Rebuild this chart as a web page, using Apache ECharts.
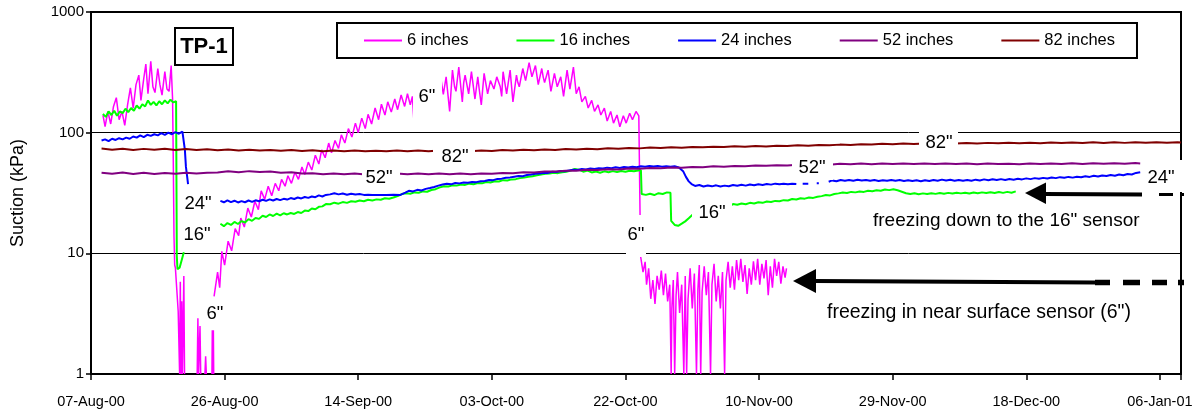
<!DOCTYPE html>
<html><head><meta charset="utf-8">
<script src="https://cdn.jsdelivr.net/npm/echarts@6/dist/echarts.min.js"></script>
<style>html,body{margin:0;padding:0;background:#fff}#c{width:1200px;height:411px}</style>
</head><body><div id="c"></div>
<script>
// x = days since 07-Aug-00, y = suction (kPa)
const xTickLabels = ['07-Aug-00','26-Aug-00','14-Sep-00','03-Oct-00','22-Oct-00','10-Nov-00','29-Nov-00','18-Dec-00','06-Jan-01'];
const seriesNames = ['6 inches','16 inches','24 inches','52 inches','82 inches'];

const inch6 = [
[1.7,140],[2.0,112],[2.4,150],[2.8,118],[3.2,165],[3.6,195],[4.0,128],[4.4,150],[4.8,115],[5.2,170],[5.6,235],[6.0,160],[6.4,250],[6.8,300],[7.1,185],[7.5,280],[7.8,370],[8.1,210],[8.5,390],[8.8,240],[9.1,215],[9.5,340],[9.8,250],[10.1,205],[10.5,320],[10.8,230],[11.1,220],[11.4,360],[11.6,190],[11.7,60],[11.8,14],[11.9,8],[12.0,7.6],[12.2,5],[12.4,3.3],[12.6,1],[12.7,5.8],[12.8,1],[12.9,4.0],[13.0,1],[13.2,6.5],[13.3,1],[13.5,'-'],
[15.1,1],[15.2,2.9],[15.3,1],[15.5,2.5],[15.6,1],[15.9,'-'],[16.2,1],[16.3,1.4],[16.4,1],[16.8,'-'],[17.2,1],[17.25,2.3],[17.3,1],[17.4,2.3],[17.45,1],[17.47,'-'],
[17.5,4.4],[18,7],[18.3,5.2],[18.6,10.4],[19,8],[19.5,12.6],[20,10.5],[20.5,16],[21,14],[21.3,19.6],[21.8,16.5],[22.3,23.7],[22.8,20],[23.3,27],[23.8,23],[24.2,33],[24.7,28],[25.2,36],[25.7,30],[26.2,38],[26.7,33],[27.1,41],[27.6,36],[28.0,44],[28.5,38],[29,47],[29.5,41],[30,52],[30.4,45],[30.9,57],[31.4,49],[31.9,65],[32.4,55],[32.8,72],[33.3,62],[33.8,82],[34.2,68],[34.7,86],[35.2,74],[35.6,96],[36.1,82],[36.6,108],[37.1,92],[37.6,120],[38.0,100],[38.5,132],[39.0,108],[39.4,142],[39.9,118],[40.4,160],[40.9,128],[41.3,172],[41.8,140],[42.2,180],[42.7,148],[43.2,190],[43.6,155],[44.1,205],[44.6,165],[45.0,210],[45.4,170],[45.7,200],[45.9,130],[46.3,190],[46.8,240],[47.3,200],[47.8,260],[48.3,215],[48.8,280],[49.3,230],[49.8,270],
[50.1,208],[50.5,290],[51.0,150],[51.4,330],[51.7,240],[51.9,220],[52.3,350],[52.8,180],[53.0,260],[53.2,300],[53.7,210],[54.1,320],[54.6,190],[55.0,290],[55.2,230],[55.5,170],[55.9,310],[56.4,210],[56.8,270],[57.3,230],[57.7,290],[58.2,240],[58.4,200],[58.6,320],[59.1,210],[59.6,330],[60.0,180],[60.5,300],[60.7,260],[60.9,240],[61.4,340],[61.8,270],[62.3,380],[62.7,290],[63.2,360],[63.6,250],[64.1,340],[64.3,290],[64.5,260],[65.0,330],[65.4,220],[65.9,310],[66.3,240],[66.8,290],[67.2,200],[67.5,270],[67.7,330],[68.1,230],[68.6,350],[69.0,210],[69.4,240],[69.8,180],[70.3,200],[70.7,160],[71.2,185],[71.6,150],[72.1,170],[72.5,140],[73.0,160],[73.4,125],[73.9,150],[74.3,120],[74.8,140],[75.2,112],[75.7,138],[76.1,120],[76.6,145],[77.0,128],[77.5,150],[77.9,138],[78.1,140],[78.15,9.5],
[78.5,7],[78.8,8.5],[79.0,5.5],[79.3,7.5],[79.6,4.2],[79.9,6],[80.2,3.8],[80.5,6.5],[80.8,5],[81.1,7.2],[81.4,4.5],[81.7,6.8],[82.0,4],[82.3,5.5],[82.5,1],[82.6,3.5],[82.8,6],[83.0,1],[83.2,4.5],[83.4,7],[83.7,3.2],[84.0,5.5],[84.3,1],[84.5,6.5],[84.7,1],[84.9,4.2],[85.2,7.5],[85.5,3.5],[85.8,6.8],[86.1,1],[86.3,5],[86.5,8],[86.7,1],[86.9,4.8],[87.2,7.8],[87.5,4.5],[87.8,7],[88.1,1],[88.3,5.5],[88.6,8.2],[88.9,4],[89.2,6.5],[89.5,3.5],[89.8,7],[90.1,1],[90.3,6],[90.6,8.5],[90.9,5.2],[91.2,7.8],[91.5,5],[91.8,8.8],[92.1,6],[92.4,9],[92.7,5.8],[93.0,8],[93.3,4.6],[93.6,7.5],[93.9,5.5],[94.2,8.6],[94.5,6],[94.8,9],[95.1,5.5],[95.4,8.2],[95.7,6.2],[96.0,8.8],[96.3,4.5],[96.6,7.8],[96.9,5.2],[97.2,9],[97.5,6.5],[97.8,8.5],[98.1,5.6],[98.4,7.8],[98.7,6.3],[98.9,7.5]
];

const inch16 = [
[1.7,143],[2.1,135],[2.5,150],[2.9,140],[3.3,152],[3.7,138],[4.1,150],[4.5,145],[4.9,158],[5.3,148],[5.7,160],[6.1,152],[6.5,168],[6.9,158],[7.3,172],[7.7,165],[8.1,185],[8.5,170],[8.9,180],[9.3,168],[9.7,182],[10.1,172],[10.5,185],[10.9,175],[11.3,188],[11.7,178],[12.1,182],
[12.2,9.5],[12.3,7.4],[12.6,7.6],[12.9,8.8],[13.2,10.2],[13.5,'-'],
[18.4,17.6],[18.9,16.8],[19.4,17.8],[19.9,17.2],[20.4,18.2],[20.9,17.5],[21.4,18.5],[21.9,18],[22.4,19.2],[22.9,18.6],[23.4,19.6],[23.9,19.3],[24.4,20.5],[24.9,20],[25.4,21],[25.9,20.4],[26.4,21.3],[26.9,20.6],[27.4,21.5],[27.9,21],[28.4,21.6],[28.9,21.2],[29.4,22],[29.9,21.6],[30.4,22.6],[30.9,22.4],[31.4,23.5],[31.9,23.2],[32.4,24.3],[32.9,24.5],[33.4,25.6],[34,25.5],[34.6,26.3],[35.2,25.8],[35.8,26.6],[36.4,26.2],[37,27],[37.6,26.8],[38.2,27.4],[38.8,27],[39.4,27.8],[40,27.4],[40.6,28],[41.2,27.8],[41.8,28.6],[42.4,28.3],[43,29],[43.6,29.8],[44.2,31],[44.8,31.5],[45.4,31.2],[46,32],[46.6,31.8],[47.2,32.6],[47.8,32.4],[48.4,33.5],[49,34],[49.6,35.2],[50.2,36],[50.8,35.8],[51.4,36.6],[52,36.4],[52.6,37.2],[53.2,36.9],[53.8,37.8],[54.4,37.4],[55,38.2],[55.6,38],[56.2,39],[56.8,38.7],[57.4,39.6],[58,39.4],[58.6,40.4],[59.2,40.2],[59.8,41],[60.4,41.2],[61,42],[61.6,42.4],[62.2,43.2],[62.8,43.6],[63.4,44.4],[64,45],[64.6,45.6],[65.2,45.8],[65.8,46.5],[66.4,46.2],[67,47],[67.6,47.5],[68.2,48.6],[68.8,50],[69.4,49.4],[70,47.5],[70.6,48.5],[71.2,46.8],[71.8,47.6],[72.4,46.6],[73,47.8],[73.6,47],[74.2,48],[74.8,47.2],[75.4,48.2],[76,47.4],[76.6,48.4],[77.2,47.8],[77.8,48.6],[78.2,48.8],
[78.3,31],[78.9,30.5],[79.5,31.2],[80.1,30.4],[80.7,31.5],[81.3,31],[81.9,32],[82.4,31.8],[82.5,18.6],[83,17.2],[83.5,16.9],[84,17.6],[84.5,18.4],[85,19.5],[85.5,20.8],
[86.5,22],[88,23.2],[89.5,24.2],[91,25],[91.3,25.6],[91.9,25.3],[92.5,25.9],[93.1,25.5],[93.7,26.2],[94.3,25.9],[94.9,26.5],[95.5,26.2],[96.1,26.9],[96.7,26.6],[97.3,27.2],[97.9,27],[98.5,27.6],[99.1,27.4],[99.7,28.2],[100.3,27.9],[100.9,28.6],[101.5,28.4],[102.1,29],[102.7,28.8],[103.3,29.4],[103.9,29.8],[104.5,30.4],[105.1,30.2],[105.7,31],[106.3,31.4],[106.9,31.9],[107.5,31.6],[108.1,32.3],[108.7,32],[109.3,32.6],[109.9,32.3],[110.5,33],[111.1,32.7],[111.7,33.3],[112.3,33],[112.9,33.8],[113.5,33.4],[114.1,34],[114.7,33.3],[115.3,32.4],[115.9,31.5],[116.5,31],[117.1,31.5],[117.7,30.9],[118.3,31.4],[118.9,31],[119.5,31.5],[120.1,31.1],[120.7,31.6],[121.3,31.2],[121.9,31.7],[122.5,31.3],[123.1,31.8],[123.7,31.4],[124.3,31.8],[124.9,31.3],[125.5,31.9],[126.1,31.5],[126.7,32],[127.3,31.6],[127.9,32.1],[128.5,31.6],[129.1,32.2],[129.7,31.7],[130.3,32.3],[130.9,31.8],[131.5,32.6]
];

const inch24 = [
[1.5,86],[2,88],[2.5,85],[3,89],[3.5,87],[4,90],[4.5,88],[5,91],[5.5,89],[6,93],[6.5,91],[7,95],[7.5,92],[8,96],[8.5,94],[9,97],[9.5,95],[10,99],[10.5,96],[11,100],[11.5,97],[12,101],[12.5,98],[13,102],[13.2,100],[13.35,72],[13.5,52],[13.7,42],[13.8,37.5],[14,'-'],
[18.4,27.2],[18.9,26.5],[19.4,27.5],[19.9,26.6],[20.4,27.3],[20.9,26.4],[21.4,27.1],[21.9,26.5],[22.4,27.4],[22.9,26.7],[23.4,27.5],[23.9,27],[24.4,27.8],[24.9,27.2],[25.4,28],[25.9,27.4],[26.4,28.2],[26.9,27.6],[27.4,28.3],[27.9,27.9],[28.4,28.7],[28.9,28.2],[29.4,29],[29.9,28.5],[30.4,29.3],[30.9,28.8],[31.4,29.6],[31.9,29.2],[32.4,30.2],[32.9,29.6],[33.4,30.5],[34,30.8],[34.6,31.5],[35.2,30.8],[35.8,31.3],[36.4,30.6],[37,31.2],[37.6,30.7],[38.2,31],[38.8,30.5],[39.4,30.6],[40,30.4],[41,30.5],[42,30.4],[43,30.6],[44,30.5],[44.7,31.8],[45.2,33],[45.8,32.6],[46.4,33.6],[47,33.2],[47.6,34.2],[48.2,34.8],[48.8,35.5],[49.4,36.4],[50,37.2],[50.6,37.8],[51.2,37.3],[51.8,38.3],[52.4,38],[53,38.6],[53.6,38.4],[54.2,39],[54.8,38.9],[55.4,39.6],[56,39.8],[56.6,40.6],[57.2,40.4],[57.8,41.4],[58.4,41.6],[59,42.3],[59.6,42.6],[60.2,43.2],[60.8,43.8],[61.4,43.6],[62,44.6],[62.6,45],[63.2,45.6],[63.8,45.8],[64.4,46.6],[65,46.4],[65.6,47.5],[66.2,47.2],[66.8,48.2],[67.4,47.8],[68,48.7],[68.6,49.4],[69.2,49],[69.8,50],[70.4,49.6],[71,50.5],[71.6,50],[72.2,50.8],[72.8,50.4],[73.4,51.3],[74,50.8],[74.6,51.6],[75.2,51],[75.8,51.9],[76.4,51.4],[77,52.2],[77.6,51.7],[78.2,52.6],[78.8,52.1],[79.4,53],[80,52.4],[80.6,52.9],[81.2,52.3],[81.8,52.8],[82.4,52.2],[83,52.6],[83.6,51.5],[84.2,48],[84.6,43],[85,39.5],[85.4,37.5],[85.9,36.2],[86.5,36.8],[87.1,35.8],[87.7,36.5],[88.3,35.9],[88.9,36.6],[89.5,35.8],[90.1,36.4],[90.7,36],[91.3,36.8],[91.9,36.3],[92.5,37],[93.1,36.4],[93.7,37.2],[94.3,36.7],[94.9,37.4],[95.5,36.9],[96.1,37.6],[96.7,37.1],[97.3,37.8],[97.9,37.3],[98.5,37.8],[99.1,37.4],[99.7,37.8],[100.3,37.6],[100.6,'-'],[101.2,37.8],[102,37.8],[102.5,'-'],[103.2,38],[103.5,38],[104,'-'],[104.9,39.2],[105.4,40.2],[106,39.6],[106.6,40.5],[107.2,39.9],[107.8,40.6],[108.4,40],[109,40.7],[109.6,40.1],[110.2,40.6],[110.8,40],[111.4,40.5],[112,39.8],[112.6,40.4],[113.2,39.9],[113.8,40.6],[114.4,40],[115,40.5],[115.6,39.8],[116.2,40.4],[116.8,39.7],[117.4,40.3],[118,39.6],[118.6,40.4],[119.2,39.8],[119.8,40.6],[120.4,40],[121,40.8],[121.6,40.1],[122.2,40.7],[122.8,40],[123.4,40.6],[124,39.9],[124.6,40.5],[125.2,40],[125.8,40.8],[126.4,40.2],[127,41],[127.6,40.4],[128.2,41.1],[128.8,40.5],[129.4,41.2],[130,40.6],[130.6,41.3],[131.2,40.8],[131.8,41.5],[132.4,41],[133,41.8],[133.6,41.2],[134.2,42],[134.8,41.5],[135.4,42.2],[136,41.7],[136.6,42.5],[137.2,42],[137.8,42.8],[138.4,42.3],[139,43],[139.6,42.4],[140.2,43.2],[140.8,42.7],[141.4,43.5],[142,43],[142.6,43.9],[143.2,43.3],[143.8,44.2],[144.4,43.7],[145,44.6],[145.6,44],[146.2,45],[146.8,44.4],[147.4,45.4],[148,45],[148.6,46.4],[149.2,47]
];

const inch52 = [
[1.5,46.5],[3,45.6],[4.5,46.8],[6,45.4],[7.5,46.6],[9,45.5],[10.5,46.4],[12,45.6],[13.5,46.5],[15,45.8],[16.5,46.6],[18,46.8],[19.5,47.8],[21,47],[22.5,48],[24,47.2],[25.5,47.6],[27,46.6],[28.5,46.9],[30,45.8],[31.5,46.2],[33,45.3],[34.5,45.9],[36,45.2],[37.5,45.8],[39,45.1],[40.5,45.7],[42,45.2],[43.5,45.9],[45,45.3],[46.5,45.8],[48,45.2],[49.5,45.9],[51,45.3],[52.5,45.8],[54,45.2],[55.5,45.9],[57,45.6],[58.5,46.3],[60,46.1],[61.5,46.9],[63,46.8],[64.5,47.6],[66,47.6],[67.5,48.4],[69,48.4],[70.5,49.2],[72,49],[73.5,49.8],[75,49.6],[76.5,50.4],[78,50.2],[79.5,50.9],[81,50.7],[82.5,51.4],[84,51.3],[85.5,52],[87,51.8],[88.5,52.6],[90,52.3],[91.5,53],[93,52.7],[94.5,53.4],[96,53.1],[97.5,53.8],[99,53.4],[100.5,54.1],[102,53.8],[103.5,54.5],[105,54.3],[106.5,55.2],[108,54.7],[109.5,55.4],[111,54.8],[112.5,55.5],[114,54.9],[115.5,55.6],[117,55],[118.5,55.4],[120,54.9],[121.5,55.5],[123,54.9],[124.5,55.4],[126,54.8],[127.5,55.4],[129,54.9],[130.5,55.3],[132,54.8],[133.5,55.5],[135,55],[136.5,55.6],[138,55],[139.5,55.7],[141,55.1],[142.5,55.8],[144,55.2],[145.5,55.8],[147,55.2],[148.5,56],[149.2,55.6]
];

const inch82 = [
[1.5,74],[3,72.2],[4.5,73.6],[6,72],[7.5,73.4],[9,72.1],[10.5,73.5],[12,72],[13.5,73.2],[15,71.8],[16.5,73],[18,71.5],[19.5,72.6],[21,71.2],[22.5,72.3],[24,71],[25.5,72],[27,70.8],[28.5,71.8],[30,70.5],[31.5,71.4],[33,70.3],[34.5,71.2],[36,70.1],[37.5,71],[39,70],[40.5,70.9],[42,70],[43.5,71],[45,70.1],[46.5,71],[48,70.1],[49.5,71.1],[51,70.2],[52.5,71.2],[54,70.3],[55.5,71.3],[57,70.6],[58.5,71.7],[60,71],[61.5,72.2],[63,71.5],[64.5,72.6],[66,72],[67.5,73.2],[69,72.5],[70.5,73.6],[72,73],[73.5,74.2],[75,73.6],[76.5,74.7],[78,74.1],[79.5,75.2],[81,74.7],[82.5,75.6],[84,75.1],[85.5,76.2],[87,75.6],[88.5,76.6],[90,76],[91.5,77],[93,76.4],[94.5,77.4],[96,76.9],[97.5,78],[99,77.4],[100.5,78.5],[102,78],[103.5,79.1],[105,78.6],[106.5,79.6],[108,79.2],[109.5,80.3],[111,79.8],[112.5,80.8],[114,80.2],[115.5,81.2],[117,80.6],[118.5,81.5],[120,80.9],[121.5,81.8],[123,81.2],[124.5,82],[126,81.4],[127.5,82.3],[129,81.6],[130.5,82.5],[132,81.8],[133.5,82.6],[135,81.9],[136.5,82.8],[138,82],[139.5,83],[141,82.1],[142.5,83.2],[144,82.2],[145.5,83.3],[147,82.3],[148.5,83.3],[150,82.4],[151.5,83.4],[153,82.5],[154.5,83.4],[155,82.8]
];

const seriesData = [inch6, inch16, inch24, inch52, inch82];
const seriesColors = ['#FF00FF','#00FF00','#0000FF','#800080','#800000'];

const FONT = '"Liberation Sans", Arial, Helvetica, sans-serif';

// Annotation layout (pixels)
const labelBoxes = [
  [182,193,214,214],[184,224,211,245],[203,302,228,325],
  [362,164,400,190],[413,76,442,122],[433,142,475,168],
  [626,215,646,257],[692,199,732,226],[792,155,833,180],
  [919,130,958,155],[1141,160,1185,192]
];
const curveLabels = [
  ['24"',198,204],['16"',197,235],['6"',215,314],
  ['52"',379,178],['6"',427,97],['82"',455,157],
  ['6"',636,235],['16"',712,213],['52"',812,168],
  ['82"',939,143],['24"',1161,178]
];

const graphics = [];
labelBoxes.forEach(b => graphics.push({type:'rect', z:100, silent:true,
  shape:{x:b[0], y:b[1], width:b[2]-b[0], height:b[3]-b[1]}, style:{fill:'#fff'}}));
curveLabels.forEach(l => graphics.push({type:'text', z:101, silent:true, x:l[1], y:l[2],
  style:{text:l[0], font:'18.5px ' + FONT, fill:'#000', align:'center', verticalAlign:'middle'}}));
// TP-1 box
graphics.push({type:'rect', z:100, shape:{x:175, y:28, width:58, height:37}, style:{fill:'#fff', stroke:'#000', lineWidth:2}});
graphics.push({type:'text', z:101, x:204, y:47, style:{text:'TP-1', font:'bold 22px ' + FONT, fill:'#000', align:'center', verticalAlign:'middle'}});
// annotation texts
graphics.push({type:'text', z:101, x:873, y:221, style:{text:'freezing down to the 16" sensor', font:'19px ' + FONT, fill:'#000', align:'left', verticalAlign:'middle'}});
graphics.push({type:'text', z:101, x:827, y:313, style:{text:'freezing in near surface sensor (6")', font:'19.5px ' + FONT, fill:'#000', align:'left', verticalAlign:'middle'}});
// upper arrow
graphics.push({type:'polygon', z:101, shape:{points:[[1025,193],[1046,182.5],[1046,204]]}, style:{fill:'#000'}});
graphics.push({type:'line', z:101, shape:{x1:1044,y1:194,x2:1142,y2:194.5}, style:{stroke:'#000', lineWidth:4}});
graphics.push({type:'line', z:101, shape:{x1:1159,y1:194.5,x2:1173,y2:194.5}, style:{stroke:'#000', lineWidth:3}});
graphics.push({type:'line', z:101, shape:{x1:1181,y1:194.5,x2:1184,y2:194.5}, style:{stroke:'#000', lineWidth:3}});
// lower arrow
graphics.push({type:'polygon', z:101, shape:{points:[[793,281],[816,269],[816,293]]}, style:{fill:'#000'}});
graphics.push({type:'line', z:101, shape:{x1:814,y1:281,x2:1095,y2:282.5}, style:{stroke:'#000', lineWidth:4}});
[[1095,1110],[1123,1140],[1152,1167],[1178,1184]].forEach(d => graphics.push({type:'line', z:101,
  shape:{x1:d[0],y1:282.5,x2:d[1],y2:282.5}, style:{stroke:'#000', lineWidth:5.5}}));

const chart = echarts.init(document.getElementById('c'), null, {renderer:'canvas'});
chart.setOption({
  animation:false,
  backgroundColor:'#fff',
  grid:{left:91, right:19, top:12, bottom:37, show:true, borderColor:'#000', borderWidth:2, backgroundColor:'#fff'},
  legend:{
    data:seriesNames, left:337, top:23, icon:'rect', itemWidth:38, itemHeight:2, itemGap:48,
    padding:[9,22,9,27], borderColor:'#000', borderWidth:2, backgroundColor:'#fff', selectedMode:false,
    textStyle:{fontSize:16.5, color:'#000', fontFamily:FONT}, z:50
  },
  xAxis:{
    type:'value', min:0, max:155, interval:19,
    axisLine:{show:true, lineStyle:{color:'#000', width:2}},
    axisTick:{show:true, inside:false, length:6, lineStyle:{color:'#000', width:1.5}},
    axisLabel:{color:'#000', fontSize:14.5, fontFamily:FONT, margin:20,
      formatter:v => (v % 19 === 0 ? (xTickLabels[v/19] || '') : '')},
    splitLine:{show:false}
  },
  yAxis:{
    type:'log', logBase:10, min:1, max:1000,
    name:'Suction (kPa)', nameLocation:'middle', nameGap:64, nameRotate:90,
    nameTextStyle:{fontSize:18, color:'#000', fontFamily:FONT},
    axisLine:{show:true, lineStyle:{color:'#000', width:2}},
    axisTick:{show:true, inside:false, length:5, lineStyle:{color:'#000', width:1.5}},
    axisLabel:{color:'#000', fontSize:15, fontFamily:FONT, margin:7, formatter:v => String(Math.round(v))},
    splitLine:{show:true, lineStyle:{color:'#000', width:1}},
    minorTick:{show:false}, minorSplitLine:{show:false}
  },
  series:seriesNames.map((n,i) => ({
    name:n, type:'line', data:seriesData[i], showSymbol:false, symbol:'none',
    connectNulls:false, color:seriesColors[i],
    lineStyle:{color:seriesColors[i], width: i===0 ? 1.5 : 2}
  })),
  graphic:{elements:graphics}
});
</script></body></html>
